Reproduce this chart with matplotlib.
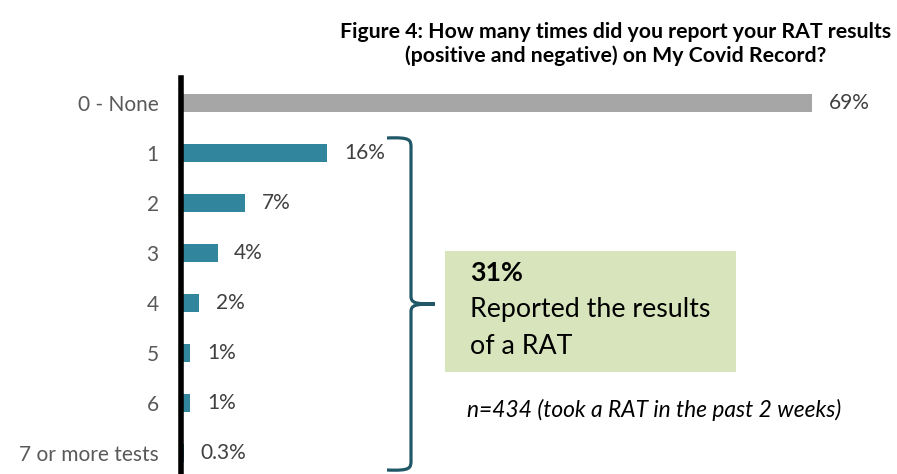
import matplotlib
matplotlib.use("Agg")
import matplotlib.pyplot as plt
from matplotlib.path import Path
from matplotlib.patches import PathPatch, Rectangle

plt.rcParams['font.family'] = ['Lato', 'DejaVu Sans']

# survey answers, top to bottom
categories = ['0 - None', '1', '2', '3', '4', '5', '6', '7 or more tests']
values = [69, 16, 7, 4, 2, 1, 1, 0.3]
value_labels = ['69%', '16%', '7%', '4%', '2%', '1%', '1%', '0.3%']
reported_total = '31%'

title = ('Figure 4: How many times did you report your RAT results\n'
         '(positive and negative) on My Covid Record?')
note = 'n=434 (took a RAT in the past 2 weeks)'

grey = '#a6a6a6'
teal = '#31859c'
brace_col = '#215868'
W, H = 897, 474

fig = plt.figure(figsize=(W / 100, H / 100), dpi=100)
ax = fig.add_axes([181 / W, 0, (W - 181) / W, 396 / H])

colors = [grey] + [teal] * (len(values) - 1)
ypos = list(range(len(categories)))
ax.barh(ypos, values, height=0.36, color=colors)
ax.set_xlim(0, (W - 181) / 9.15)
ax.set_ylim(7.42, -0.5)

for y, v, lab in zip(ypos, values, value_labels):
    ax.annotate(lab, (v, y), xytext=(12, 0), textcoords='offset points',
                va='center', ha='left', fontsize=15, color='#404040')

ax.set_yticks(ypos)
ax.set_yticklabels(categories, fontsize=15, color='#595959')
ax.tick_params(axis='y', length=0, pad=16)
ax.set_xticks([])
for s in ['top', 'right', 'bottom']:
    ax.spines[s].set_visible(False)
ax.spines['left'].set_linewidth(4)
ax.spines['left'].set_color('black')

# overlay in pixel units for the brace, callout box and text
ov = fig.add_axes([0, 0, 1, 1], facecolor='none')
ov.set_xlim(0, W)
ov.set_ylim(H, 0)
ov.axis('off')

fig.text(616 / W, 1 - 44 / H, title, ha='center', va='center',
         fontsize=15.3, fontweight='bold', color='black', linespacing=1.25)

# curly brace spanning answers 1..7+
xl, xm, xt = 387, 411, 435
yt, yc, yb = 138, 304, 470
verts = [
    (xl, yt), (xm, yt - 1), (xm, yt + 2), (xm, yt + 10),
    (xm, yc - 8),
    (xm, yc - 1), (xm + 4, yc), (xt, yc),
    (xm + 4, yc), (xm, yc + 1), (xm, yc + 8),
    (xm, yb - 10),
    (xm, yb - 2), (xm, yb + 1), (xl, yb),
]
codes = [Path.MOVETO, Path.CURVE4, Path.CURVE4, Path.CURVE4,
         Path.LINETO,
         Path.CURVE4, Path.CURVE4, Path.CURVE4,
         Path.CURVE4, Path.CURVE4, Path.CURVE4,
         Path.LINETO,
         Path.CURVE4, Path.CURVE4, Path.CURVE4]
ov.add_patch(PathPatch(Path(verts, codes), fill=False, lw=2.3,
                       edgecolor=brace_col, capstyle='butt'))

ov.add_patch(Rectangle((445, 251), 291, 121, facecolor='#d8e4bc',
                       edgecolor='none'))
ov.text(470, 273, reported_total, fontsize=19.3, fontweight='bold',
        va='center', ha='left', color='black')
ov.text(470, 310, 'Reported the results', fontsize=19.3,
        va='center', ha='left', color='black')
ov.text(470, 346, 'of a RAT', fontsize=19.3,
        va='center', ha='left', color='black')

ov.text(467, 410, note, fontsize=16.4, style='italic',
        va='center', ha='left', color='black')

fig.savefig('out.png', dpi=100)
